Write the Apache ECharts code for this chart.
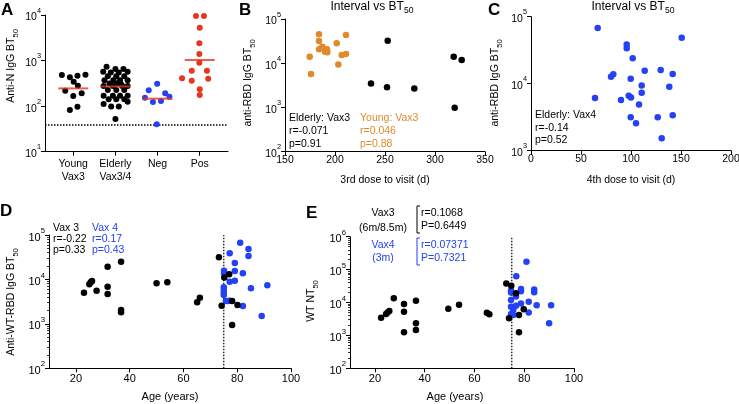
<!DOCTYPE html>
<html><head><meta charset="utf-8">
<script src="https://cdn.jsdelivr.net/npm/echarts@6/dist/echarts.min.js"></script>
<style>html,body{margin:0;padding:0;background:#fff}#c{width:739px;height:404px}</style>
</head><body><div id="c"></div>
<script>
// ---------- data ----------
// Panel A (category dot plot): values and horizontal jitter (category units)
const catA = ['Young\nVax3', 'Elderly\nVax3/4', 'Neg', 'Pos'];
const youngA = [482, 430, 466, 490, 344, 281, 218, 167, 191, 97, 82];
const youngJit = [-0.27, -0.08, 0.10, 0.29, 0.01, 0.11, -0.19, 0.0, 0.20, 0.10, -0.08];
const elderlyA = [735, 650, 650, 570, 570, 550, 550, 455, 455, 455, 370, 370, 370, 370, 315, 315, 300,
  275, 275, 275, 275, 225, 225, 225, 170, 170, 170, 170, 142, 142, 142, 112, 125, 98, 98, 52];
const elderlyJit = [-0.21, 0.0, 0.19, -0.29, 0.29, -0.11, 0.08, -0.18, 0.02, 0.21, -0.26, -0.05, 0.11, 0.29, -0.14, 0.03, 0.14,
  -0.28, -0.06, 0.16, 0.29, -0.18, 0.02, 0.21, -0.28, -0.06, 0.11, 0.29, -0.16, 0.02, 0.21, -0.28, 0.29, -0.10, 0.08, 0.0];
const negA = [311, 223, 191, 161, 153, 123, 129, 40];
const negJit = [-0.01, -0.21, 0.18, 0.28, -0.30, -0.11, 0.08, -0.02];
const posA = [9500, 9500, 5270, 2390, 1390, 900, 600, 600, 407, 362, 398, 234, 175];
const posJit = [-0.09, 0.10, 0.0, -0.01, -0.01, -0.01, -0.19, 0.17, -0.42, -0.19, 0.20, 0.0, 0.0];
const medianA = [245, 270, 146, 1030];
const limitA = 38.5;

// Panel B: [days from 3rd dose, anti-RBD BT50]
const youngB = [[184, 45000], [211, 43500], [184, 31800], [201.7, 28200], [187.3, 23700], [192, 20600], [184, 20600],
  [190, 18200], [192.3, 17600], [174.7, 14100], [206.7, 15300], [211, 16200], [203.3, 9400], [176, 5700]];
const elderlyB = [[252.7, 32400], [236, 3500], [252, 2850], [279.3, 2700], [318.7, 14000], [326.7, 11800], [319.7, 990]];

// Panel C: [days from 4th dose, anti-RBD BT50]
const elderlyC = [[66.7, 67800], [150.7, 48600], [95.7, 38600], [95.7, 33700], [101.7, 23900], [113.7, 15600], [129.7, 16000],
  [141.7, 13900], [82.3, 13800], [80, 12700], [99.7, 11900], [110.7, 9400], [138.3, 9000], [110.7, 7300], [97.7, 6600],
  [100, 6250], [64, 6100], [90, 5700], [108, 4900], [99.7, 3150], [126.7, 3150], [141.7, 3370], [105, 2560], [130.7, 1530]];

// Panel D: [age, anti-WT-RBD BT50]
const vax3D = [[23, 5040], [25, 7760], [25.5, 8600], [26, 9200], [27.7, 5590], [31.8, 19400], [31.8, 6870], [31.8, 4700],
  [36.8, 25100], [36.8, 2050], [36.8, 1820], [50, 8160], [54, 8600], [65.1, 3050], [66.1, 3890], [73.2, 31400],
  [74.2, 2570], [75.2, 11100], [77, 13000], [78.1, 3270], [80.1, 2660], [78.1, 944]];
const vax4D = [[81.1, 67100], [84.2, 48400], [84.2, 33700], [77.2, 38700], [79.1, 23400], [75.1, 15700], [75.1, 13700],
  [79.1, 15500], [82.1, 13700], [77.2, 8900], [79.1, 9400], [75, 6650], [75, 5760], [75, 4960], [75, 4470], [85.1, 6310],
  [91.2, 7380], [75.8, 3270], [77.2, 3310], [82.1, 2510], [89.1, 1500], [76.5, 3270]];

// Panel E: [age, WT NT50]
const vax3E = [[22.5, 3450], [24.5, 4470], [25.1, 5010], [25.8, 5490], [27.6, 13400], [31.7, 9000], [31.7, 5250],
  [31.7, 1240], [36.5, 11300], [36.5, 2330], [36.5, 1460], [49.5, 6500], [53.8, 8500], [65, 4900], [66, 4370],
  [72.8, 38000], [74.8, 32400], [76.7, 19000], [79.8, 6200], [77.9, 4170], [73.9, 3300], [77.9, 1240]];
const vax4E = [[80.9, 174000], [76.8, 62500], [74.7, 23000], [74.7, 20000], [78.7, 25800], [78.7, 22000], [84, 25000],
  [84, 20500], [76.7, 15200], [74.7, 11900], [81.8, 10600], [78.7, 9400], [76.7, 8000], [74.7, 7400], [75.5, 7100],
  [85, 8300], [75.6, 5900], [74.7, 4470], [81.8, 5000], [90.8, 8300], [90, 2330], [75.6, 4170]];
const ageCut = 75;

// ---------- styling ----------
const FONT = "'Liberation Sans', Arial, Helvetica, sans-serif";
const BLACK = '#000000', ORANGE = '#E08A2C', BLUE = '#2441F5', RED = '#E8351F';

function powLabel(fs) {
  return {
    formatter: v => '{b|10}{s|' + Math.round(Math.log10(v)) + '}',
    rich: {
      b: { fontSize: fs, fontFamily: FONT, color: BLACK, lineHeight: 16, verticalAlign: 'bottom' },
      s: { fontSize: fs * 0.7, fontFamily: FONT, color: BLACK, lineHeight: 8, verticalAlign: 'top' }
    },
    margin: 4
  };
}
function logY(gi, min, max, fs, minor) {
  return {
    type: 'log', logBase: 10, gridIndex: gi, min: min, max: max,
    axisLine: { show: true, onZero: false, lineStyle: { color: BLACK, width: 1 } },
    axisTick: { show: true, length: 4, lineStyle: { color: BLACK, width: 1 } },
    minorTick: { show: !!minor, splitNumber: 9, length: 2, lineStyle: { color: BLACK, width: 0.8 } },
    splitLine: { show: false }, minorSplitLine: { show: false },
    axisLabel: powLabel(fs)
  };
}
function valX(gi, min, max, ticks, fs, margin, fmt) {
  return {
    type: 'value', gridIndex: gi, min: min, max: max,
    axisLine: { show: true, onZero: false, lineStyle: { color: BLACK, width: 1 } },
    axisTick: { show: true, length: 4, customValues: ticks, lineStyle: { color: BLACK, width: 1 } },
    splitLine: { show: false },
    axisLabel: { customValues: ticks, fontSize: fs, fontFamily: FONT, color: BLACK, margin: margin, lineHeight: 13,
      formatter: fmt || (v => String(v)), showMinLabel: true, showMaxLabel: true }
  };
}
function sc(xi, data, color, size) {
  return { type: 'scatter', xAxisIndex: xi, yAxisIndex: xi, data: data, symbol: 'circle', symbolSize: size || 6.5,
    itemStyle: { color: color, opacity: 1 }, silent: true, z: 3 };
}
function txt(x, y, s, o) {
  o = o || {};
  return { type: 'text', x: x, y: y, rotation: o.rot || 0, z: 10,
    style: { text: s, fill: o.color || BLACK, fontSize: o.fs || 10.5, fontFamily: FONT, fontWeight: o.bold ? 'bold' : 'normal',
      textAlign: o.align || 'left', align: o.align || 'left', textVerticalAlign: 'middle', verticalAlign: 'middle',
      rich: o.rich } };
}
function subRich(fs, color) {
  return {
    a: { fontSize: fs, fontFamily: FONT, fill: color || BLACK, color: color || BLACK, lineHeight: 14, verticalAlign: 'top' },
    s: { fontSize: fs * 0.72, fontFamily: FONT, fill: color || BLACK, color: color || BLACK, lineHeight: 8, verticalAlign: 'bottom' }
  };
}
function subTxt(x, y, main, sub, fs, rot) {
  return txt(x, y, '{a|' + main + '}{s|' + sub + '}', { fs: fs, rot: rot, align: 'center', rich: subRich(fs) });
}
function bracket(x, y1, y2, color) {
  return { type: 'polyline', z: 10, shape: { points: [[x + 3, y1], [x, y1], [x, y2], [x + 3, y2]] },
    style: { stroke: color, fill: null, lineWidth: 1 } };
}

// build panel A data from values + jitter
const aGroups = [youngA, elderlyA, negA, posA];
const aJit = [youngJit, elderlyJit, negJit, posJit];
const aColors = [BLACK, BLACK, BLUE, RED];
const aSeries = aGroups.map((vals, ci) => sc(0, vals.map((v, k) => [ci + aJit[ci][k], v]), aColors[ci], 6));

const option = {
  animation: false,
  backgroundColor: '#ffffff',
  grid: [
    { left: 45, top: 15, width: 183, height: 136.7, containLabel: false, outerBoundsMode: 'none' },
    { left: 285, top: 19, width: 200, height: 132.7, containLabel: false, outerBoundsMode: 'none' },
    { left: 531, top: 16.7, width: 200, height: 134, containLabel: false, outerBoundsMode: 'none' },
    { left: 49, top: 235, width: 242, height: 133.3, containLabel: false, outerBoundsMode: 'none' },
    { left: 350, top: 236.7, width: 224, height: 131.6, containLabel: false, outerBoundsMode: 'none' }
  ],
  xAxis: [
    valX(0, -0.67, 3.67, [0, 1, 2, 3], 10.5, 6, v => catA[Math.round(v)]),
    valX(1, 150, 350, [150, 200, 250, 300, 350], 10.5, 2),
    valX(2, 0, 200, [0, 50, 100, 150, 200], 10.5, 2),
    valX(3, 10, 100, [20, 40, 60, 80, 100], 11, 4),
    valX(4, 10, 100, [20, 40, 60, 80, 100], 11, 4)
  ],
  yAxis: [
    logY(0, 10, 10000, 10.5, false),
    logY(1, 100, 100000, 10.5, false),
    logY(2, 1000, 100000, 10.5, false),
    logY(3, 100, 100000, 11, true),
    logY(4, 100, 1000000, 11, true)
  ],
  series: [
    ...aSeries,
    { type: 'scatter', xAxisIndex: 0, yAxisIndex: 0, data: medianA.map((m, i) => [i, m]), symbol: 'rect',
      symbolSize: [30, 2], itemStyle: { color: RED }, z: 5, silent: true },
    { type: 'line', xAxisIndex: 0, yAxisIndex: 0, data: [[-0.67, limitA], [3.67, limitA]], symbol: 'none',
      lineStyle: { color: BLACK, width: 1.5, type: [1.5, 1.5] }, z: 2, silent: true },
    sc(1, youngB, ORANGE), sc(1, elderlyB, BLACK),
    sc(2, elderlyC, BLUE),
    { type: 'line', xAxisIndex: 3, yAxisIndex: 3, data: [[ageCut, 100], [ageCut, 100000]], symbol: 'none',
      lineStyle: { color: BLACK, width: 1.2, type: [1.5, 1.5] }, z: 2, silent: true },
    sc(3, vax4D, BLUE), sc(3, vax3D, BLACK),
    { type: 'line', xAxisIndex: 4, yAxisIndex: 4, data: [[ageCut, 100], [ageCut, 1000000]], symbol: 'none',
      lineStyle: { color: BLACK, width: 1.2, type: [1.5, 1.5] }, z: 2, silent: true },
    sc(4, vax4E, BLUE), sc(4, vax3E, BLACK)
  ],
  graphic: [
    // panel letters
    txt(1, 10, 'A', { fs: 17, bold: true }),
    txt(239, 10, 'B', { fs: 17, bold: true }),
    txt(488, 10, 'C', { fs: 17, bold: true }),
    txt(0, 211, 'D', { fs: 17, bold: true }),
    txt(306, 213, 'E', { fs: 17, bold: true }),
    // titles
    subTxt(372, 8, 'Interval vs BT', '50', 12),
    subTxt(633, 8, 'Interval vs BT', '50', 12),
    // y axis titles
    subTxt(13, 66, 'Anti-N IgG BT', '50', 10.5, Math.PI / 2),
    subTxt(250, 83, 'anti-RBD IgG BT', '50', 10.5, Math.PI / 2),
    subTxt(497, 83, 'anti-RBD IgG BT', '50', 10.5, Math.PI / 2),
    subTxt(12.5, 302, 'Anti-WT-RBD IgG BT', '50', 10.5, Math.PI / 2),
    subTxt(313, 301, 'WT NT', '50', 10.5, Math.PI / 2),
    // x axis titles
    txt(385, 180, '3rd dose to visit (d)', { align: 'center', fs: 10.5 }),
    txt(631, 180, '4th dose to visit (d)', { align: 'center', fs: 10.5 }),
    txt(170, 397, 'Age (years)', { align: 'center', fs: 11 }),
    txt(455, 397, 'Age (years)', { align: 'center', fs: 11 }),
    // B annotations
    txt(289, 118, 'Elderly: Vax3'), txt(289, 131, 'r=-0.071'), txt(289, 144, 'p=0.91'),
    txt(360, 118, 'Young: Vax3', { color: ORANGE }), txt(360, 131, 'r=0.046', { color: ORANGE }), txt(360, 144, 'p=0.88', { color: ORANGE }),
    // C annotations
    txt(535, 115, 'Elderly: Vax4'), txt(535, 128, 'r=-0.14'), txt(535, 140, 'p=0.52'),
    // D annotations
    txt(53, 228, 'Vax 3'), txt(53, 239.5, 'r=-0.22'), txt(53, 250, 'p=0.33'),
    txt(92, 228, 'Vax 4', { color: BLUE }), txt(92, 239.5, 'r=0.17', { color: BLUE }), txt(92, 250, 'p=0.43', { color: BLUE }),
    // E annotations
    txt(383, 213, 'Vax3', { align: 'center' }), txt(383, 228, '(6m/8.5m)', { align: 'center' }),
    bracket(417, 206, 233, BLACK),
    txt(421, 213, 'r=0.1068'), txt(421, 226, 'P=0.6449'),
    txt(383, 245, 'Vax4', { align: 'center', color: BLUE }), txt(383, 258, '(3m)', { align: 'center', color: BLUE }),
    bracket(417, 238, 265, BLUE),
    txt(421, 245, 'r=0.07371', { color: BLUE }), txt(421, 258, 'P=0.7321', { color: BLUE })
  ]
};
const chart = echarts.init(document.getElementById('c'), null, { renderer: 'canvas' });
chart.setOption(option);
</script>
</body></html>
